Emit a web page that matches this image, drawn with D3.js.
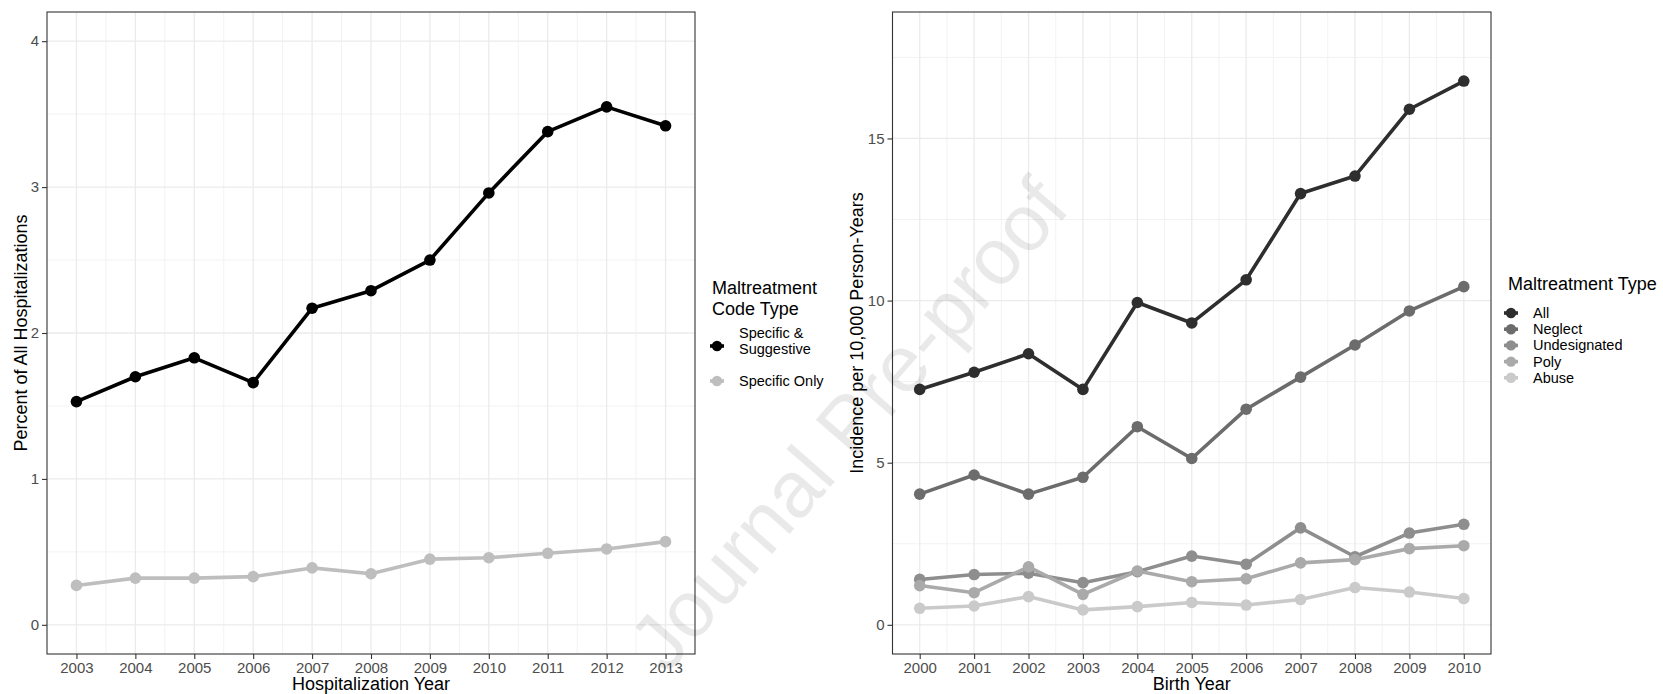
<!DOCTYPE html>
<html>
<head>
<meta charset="utf-8">
<script src="https://cdn.jsdelivr.net/npm/d3@7"></script>
<style>
body { margin: 0; background: #fff; }
text { font-family: "Liberation Sans", Arial, sans-serif; }
</style>
</head>
<body>
<svg id="chart"></svg>
<script>
// left panel data
var hospYears = [2003, 2004, 2005, 2006, 2007, 2008, 2009, 2010, 2011, 2012, 2013];
var specificSuggestive = [1.53, 1.70, 1.83, 1.66, 2.17, 2.29, 2.50, 2.96, 3.38, 3.55, 3.42];
var specificOnly = [0.27, 0.32, 0.32, 0.33, 0.39, 0.35, 0.45, 0.46, 0.49, 0.52, 0.57];
var codeTypes = ["Specific & Suggestive", "Specific Only"];
var leftTicks = [0, 1, 2, 3, 4];

// right panel data
var birthYears = [2000, 2001, 2002, 2003, 2004, 2005, 2006, 2007, 2008, 2009, 2010];
var allType = [7.26, 7.79, 8.36, 7.26, 9.94, 9.31, 10.64, 13.30, 13.84, 15.90, 16.77];
var neglect = [4.03, 4.62, 4.03, 4.55, 6.11, 5.13, 6.65, 7.64, 8.63, 9.68, 10.43];
var undesignated = [1.40, 1.55, 1.59, 1.30, 1.64, 2.12, 1.87, 2.99, 2.10, 2.83, 3.10];
var poly = [1.21, 0.99, 1.79, 0.94, 1.66, 1.33, 1.42, 1.91, 2.01, 2.35, 2.44];
var abuse = [0.51, 0.58, 0.87, 0.46, 0.56, 0.69, 0.61, 0.78, 1.15, 1.01, 0.81];
var typeNames = ["All", "Neglect", "Undesignated", "Poly", "Abuse"];
var rightTicks = [0, 5, 10, 15];

var width = 1663, height = 694;
var svg = d3.select("#chart").attr("width", width).attr("height", height);

var leftColors = ["#000000", "#bebebe"];
var rightColors = ["#2e2e2e", "#6c6c6c", "#8e8e8e", "#aaaaaa", "#cacaca"];

function panel(opts) {
  var x = d3.scaleLinear()
    .domain([opts.years[0] - 0.5, opts.years[opts.years.length - 1] + 0.5])
    .range([opts.left, opts.right]);
  var y = d3.scaleLinear().domain(opts.ydom).range([opts.bottom, opts.top]);
  var g = svg.append("g");

  // grid, minor first then major
  var ystep = opts.yticks[1] - opts.yticks[0];
  var yminor = d3.range(opts.yticks[0] - ystep / 2, opts.ydom[1], ystep)
    .filter(function(v) { return v > opts.ydom[0]; });
  var xminor = opts.years.slice(1).map(function(v) { return v - 0.5; });

  g.selectAll(".hmin").data(yminor).enter().append("line")
    .attr("x1", opts.left).attr("x2", opts.right)
    .attr("y1", function(d) { return y(d); }).attr("y2", function(d) { return y(d); })
    .attr("stroke", "#f2f2f2").attr("stroke-width", 1);
  g.selectAll(".vmin").data(xminor).enter().append("line")
    .attr("y1", opts.top).attr("y2", opts.bottom)
    .attr("x1", function(d) { return x(d); }).attr("x2", function(d) { return x(d); })
    .attr("stroke", "#f2f2f2").attr("stroke-width", 1);
  g.selectAll(".hmaj").data(opts.yticks).enter().append("line")
    .attr("x1", opts.left).attr("x2", opts.right)
    .attr("y1", function(d) { return y(d); }).attr("y2", function(d) { return y(d); })
    .attr("stroke", "#ebebeb").attr("stroke-width", 1.3);
  g.selectAll(".vmaj").data(opts.years).enter().append("line")
    .attr("y1", opts.top).attr("y2", opts.bottom)
    .attr("x1", function(d) { return x(d); }).attr("x2", function(d) { return x(d); })
    .attr("stroke", "#ebebeb").attr("stroke-width", 1.3);

  // axes
  var xa = g.append("g").attr("transform", "translate(0," + opts.bottom + ")")
    .call(d3.axisBottom(x).tickValues(opts.years).tickFormat(d3.format("d")).tickSize(5).tickPadding(3));
  var ya = g.append("g").attr("transform", "translate(" + opts.left + ",0)")
    .call(d3.axisLeft(y).tickValues(opts.yticks).tickFormat(d3.format("d")).tickSize(5).tickPadding(3));
  [xa, ya].forEach(function(a) {
    a.select(".domain").remove();
    a.selectAll(".tick line").attr("stroke", "#333333").attr("stroke-width", 1.1);
    a.selectAll(".tick text").attr("fill", "#4d4d4d").style("font-size", "15px")
      .style("font-family", '"Liberation Sans", Arial, sans-serif');
  });

  // lines and points
  var line = d3.line()
    .x(function(d, i) { return x(opts.years[i]); })
    .y(function(d) { return y(d); });
  opts.series.forEach(function(s, k) {
    g.append("path").datum(s)
      .attr("d", line).attr("fill", "none")
      .attr("stroke", opts.colors[k]).attr("stroke-width", 3.6)
      .attr("stroke-linejoin", "round");
  });
  opts.series.forEach(function(s, k) {
    g.selectAll(".pt" + k).data(s).enter().append("circle")
      .attr("cx", function(d, i) { return x(opts.years[i]); })
      .attr("cy", function(d) { return y(d); })
      .attr("r", 5.8).attr("fill", opts.colors[k]);
  });

  // border
  g.append("rect")
    .attr("x", opts.left).attr("y", opts.top)
    .attr("width", opts.right - opts.left).attr("height", opts.bottom - opts.top)
    .attr("fill", "none").attr("stroke", "#333333").attr("stroke-width", 1.1);

  // titles
  g.append("text")
    .attr("x", (opts.left + opts.right) / 2).attr("y", 690)
    .attr("text-anchor", "middle").style("font-size", "18px").attr("fill", "#000")
    .text(opts.xtitle);
  g.append("text")
    .attr("transform", "translate(" + opts.ytitleX + "," + (opts.top + opts.bottom) / 2 + ") rotate(-90)")
    .attr("text-anchor", "middle").style("font-size", "18px").attr("fill", "#000")
    .text(opts.ytitle);
}

panel({
  years: hospYears, series: [specificSuggestive, specificOnly], colors: leftColors,
  left: 47, right: 695, top: 12, bottom: 654, ydom: [-0.2, 4.2], yticks: leftTicks,
  xtitle: "Hospitalization Year", ytitle: "Percent of All Hospitalizations", ytitleX: 27
});

panel({
  years: birthYears, series: [allType, neglect, undesignated, poly, abuse], colors: rightColors,
  left: 892.5, right: 1491, top: 12, bottom: 654, ydom: [-0.9, 18.9], yticks: rightTicks,
  xtitle: "Birth Year", ytitle: "Incidence per 10,000 Person-Years", ytitleX: 863
});

// legend keys: short line with a point
function legendKey(g, cx, cy, color) {
  g.append("line").attr("x1", cx - 7).attr("x2", cx + 7).attr("y1", cy).attr("y2", cy)
    .attr("stroke", color).attr("stroke-width", 3.6);
  g.append("circle").attr("cx", cx).attr("cy", cy).attr("r", 5.2).attr("fill", color);
}

// left legend
var lg = svg.append("g");
lg.append("text").attr("x", 712).attr("y", 294).style("font-size", "18px").text("Maltreatment");
lg.append("text").attr("x", 712).attr("y", 315).style("font-size", "18px").text("Code Type");
legendKey(lg, 717, 346, leftColors[0]);
legendKey(lg, 717, 381, leftColors[1]);
lg.append("text").attr("x", 739).attr("y", 338).style("font-size", "14.5px").text("Specific &");
lg.append("text").attr("x", 739).attr("y", 354).style("font-size", "14.5px").text("Suggestive");
lg.append("text").attr("x", 739).attr("y", 386).style("font-size", "14.5px").text(codeTypes[1]);

// right legend
var rg = svg.append("g");
rg.append("text").attr("x", 1508).attr("y", 290).style("font-size", "18px").text("Maltreatment Type");
typeNames.forEach(function(n, i) {
  var cy = 313 + i * 16.2;
  legendKey(rg, 1511, cy, rightColors[i]);
  rg.append("text").attr("x", 1533).attr("y", cy + 5).style("font-size", "14.5px").text(n);
});

// watermark
svg.append("text")
  .attr("transform", "translate(848,424) rotate(-49)")
  .attr("text-anchor", "middle").attr("dy", "0.35em")
  .style("font-size", "80px").attr("fill", "#000").attr("fill-opacity", 0.085)
  .text("Journal Pre-proof");
</script>
</body>
</html>
